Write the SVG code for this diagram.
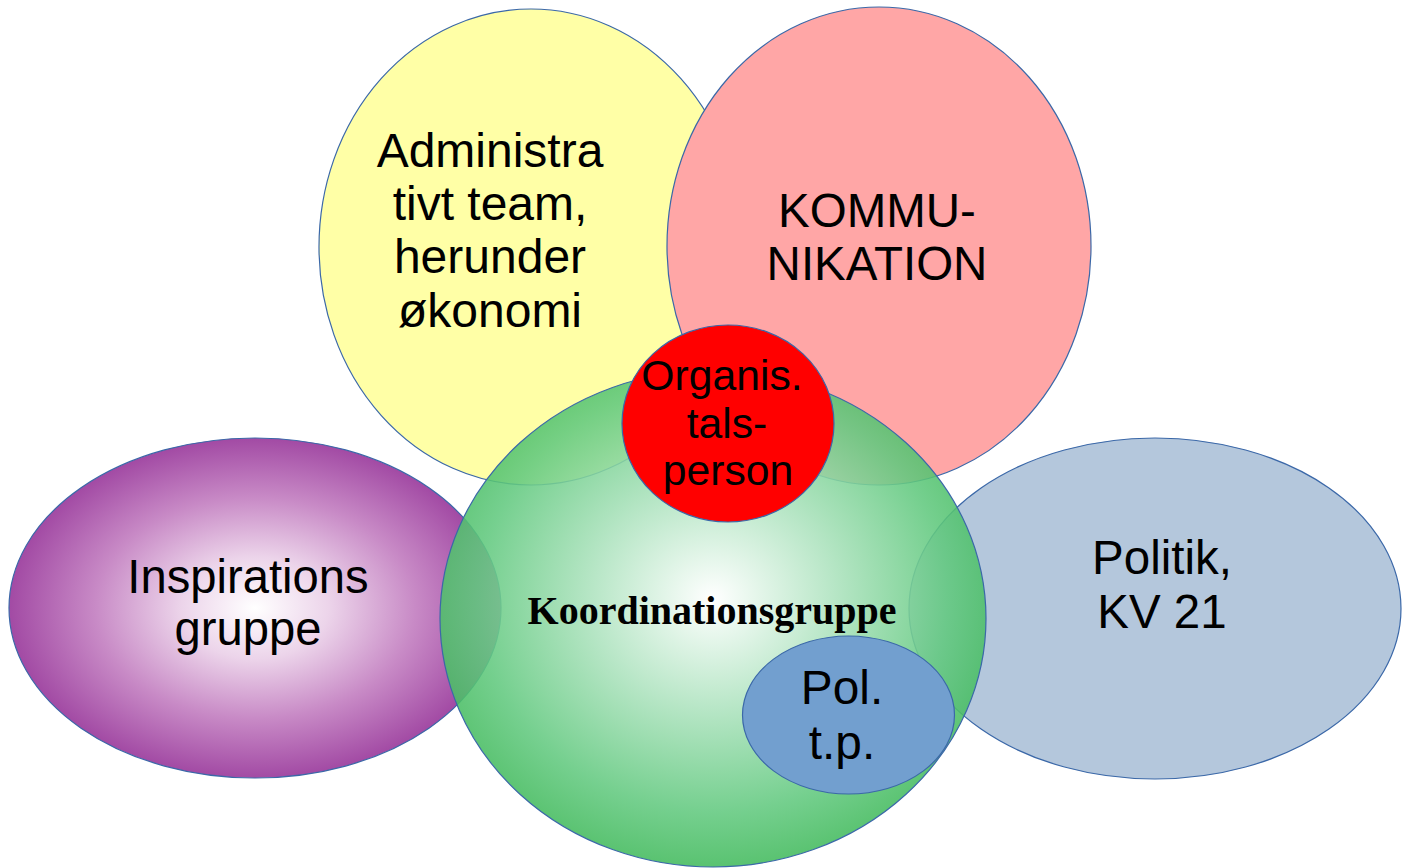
<svg xmlns="http://www.w3.org/2000/svg" width="1408" height="868" viewBox="0 0 1408 868">
  <style>
    .shape { stroke: #3b68a8; stroke-width: 1.2; }
    .lbl { font-family: "Liberation Sans", Arial, sans-serif; fill: #000; text-anchor: middle; }
    .koord { font-family: "Liberation Serif", "Times New Roman", serif; font-weight: bold; font-size: 40px; fill: #000; text-anchor: middle; }
  </style>
  <defs>
    <radialGradient id="gGreen" cx="0.5" cy="0.46" r="0.55">
      <stop offset="0" stop-color="#ffffff"/>
      <stop offset="0.4" stop-color="#aee3bf"/>
      <stop offset="0.78" stop-color="#62c97f"/>
      <stop offset="1" stop-color="#40b95a"/>
    </radialGradient>
    <radialGradient id="gPurple" cx="0.5" cy="0.5" r="0.5">
      <stop offset="0" stop-color="#ffffff"/>
      <stop offset="0.3" stop-color="#ecd4ea"/>
      <stop offset="0.65" stop-color="#c88ac6"/>
      <stop offset="1" stop-color="#a24aa4"/>
    </radialGradient>
  </defs>
  <rect width="1408" height="868" fill="#ffffff"/>

  <g id="node-admin">
    <ellipse class="shape" cx="531" cy="247" rx="212" ry="238" fill="#ffffa6"/>
    <text class="lbl" style="font-size:48px"><tspan x="490" y="167">Administra</tspan><tspan x="490" y="220">tivt team,</tspan><tspan x="490" y="273">herunder</tspan><tspan x="490" y="327">økonomi</tspan></text>
  </g>

  <g id="node-kommunikation">
    <ellipse class="shape" cx="879" cy="246" rx="212" ry="239" fill="#ffa6a6"/>
    <text class="lbl" style="font-size:47.5px"><tspan x="877" y="227">KOMMU-</tspan><tspan x="877" y="280">NIKATION</tspan></text>
  </g>

  <g id="node-inspiration">
    <ellipse class="shape" cx="255" cy="608" rx="246" ry="170" fill="url(#gPurple)"/>
    <text class="lbl" style="font-size:47.2px"><tspan x="248" y="593">Inspirations</tspan><tspan x="248" y="645">gruppe</tspan></text>
  </g>

  <g id="node-politik">
    <ellipse class="shape" cx="1155" cy="608.5" rx="246" ry="170.5" fill="#b4c7dc"/>
    <text class="lbl" style="font-size:47.5px"><tspan x="1162" y="574">Politik,</tspan><tspan x="1162" y="628">KV 21</tspan></text>
  </g>

  <g id="node-koordination">
    <ellipse class="shape" cx="713" cy="618.5" rx="273" ry="248.5" fill="url(#gGreen)" fill-opacity="0.88"/>
    <text class="koord" x="712" y="624">Koordinationsgruppe</text>
  </g>

  <g id="node-talsperson">
    <ellipse class="shape" cx="728" cy="423.5" rx="106" ry="98.5" fill="#ff0000"/>
    <text class="lbl" style="font-size:42.7px"><tspan x="722" y="390">Organis.</tspan><tspan x="727" y="438">tals-</tspan><tspan x="728" y="485">person</tspan></text>
  </g>

  <g id="node-poltp">
    <ellipse class="shape" cx="848.5" cy="715" rx="106" ry="79" fill="#729fcf"/>
    <text class="lbl" style="font-size:47.8px"><tspan x="842" y="704">Pol.</tspan><tspan x="842" y="759">t.p.</tspan></text>
  </g>

  <g id="connectors"></g>
</svg>
